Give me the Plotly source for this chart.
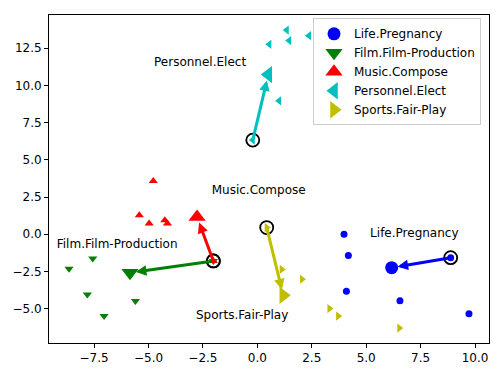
import plotly.graph_objects as go

# small points per relation (last point in each list is the circled anchor)
life_x = [3.98, 4.18, 4.09, 6.55, 9.72, 8.88]
life_y = [0.0, -1.43, -3.83, -4.46, -5.33, -1.57]
film_x = [-8.65, -7.56, -7.81, -7.04, -5.60, -2.02]
film_y = [-2.31, -1.63, -4.05, -5.49, -4.48, -1.79]
music_x = [-4.78, -5.42, -4.97, -4.25, -4.13, -2.02]
music_y = [3.58, 1.28, 0.72, 0.94, 0.72, -1.79]
elect_x = [1.35, 1.46, 2.37, 0.55, 1.00, -0.21]
elect_y = [13.71, 13.0, 13.33, 12.75, 8.96, 6.32]
sports_x = [1.12, 2.05, 3.31, 3.71, 6.52, 0.43]
sports_y = [-2.36, -3.02, -4.99, -5.49, -6.30, 0.45]

names = ['Life.Pregnancy', 'Film.Film-Production', 'Music.Compose', 'Personnel.Elect', 'Sports.Fair-Play']
anchor_x = [8.88, -2.02, -2.02, -0.21, 0.43]
anchor_y = [-1.57, -1.79, -1.79, 6.32, 0.45]
target_x = [6.17, -5.85, -2.77, 0.50, 1.19]
target_y = [-2.24, -2.59, 1.16, 10.72, -4.10]

label_x = [7.21, -6.44, 0.06, -2.63, -0.70]
label_y = [0.05, -0.72, 2.91, 11.5, -5.47]

x_ticks = [-7.5, -5.0, -2.5, 0.0, 2.5, 5.0, 7.5, 10.0]
y_ticks = [-5.0, -2.5, 0.0, 2.5, 5.0, 7.5, 10.0, 12.5]

colors = ['#0000ff', '#008000', '#ff0000', '#00bfbf', '#bfbf00']
symbols = ['circle', 'triangle-down', 'triangle-up', 'triangle-left', 'triangle-right']
small_x = [life_x, film_x, music_x, elect_x, sports_x]
small_y = [life_y, film_y, music_y, elect_y, sports_y]

FONT = 'DejaVu Sans'

fig = go.Figure()

for i in range(len(names)):
    sz = 7 if symbols[i] == 'circle' else 8
    fig.add_trace(go.Scatter(x=small_x[i], y=small_y[i], mode='markers',
                             marker=dict(symbol=symbols[i], color=colors[i], size=sz),
                             showlegend=False, hoverinfo='skip'))

fig.add_trace(go.Scatter(x=anchor_x, y=anchor_y, mode='markers',
                         marker=dict(symbol='circle-open', color='black', size=13,
                                     line=dict(width=1.8)),
                         showlegend=False, hoverinfo='skip'))

for i in range(len(names)):
    sz = 13 if symbols[i] == 'circle' else 15
    fig.add_trace(go.Scatter(x=[target_x[i]], y=[target_y[i]], mode='markers', name=names[i],
                             marker=dict(symbol=symbols[i], color=colors[i], size=sz)))

    fig.add_annotation(x=target_x[i], y=target_y[i], ax=anchor_x[i], ay=anchor_y[i],
                       xref='x', yref='y', axref='x', ayref='y', text='',
                       showarrow=True, arrowhead=2, arrowsize=0.7, arrowwidth=3,
                       arrowcolor=colors[i], standoff=6)

fig.add_trace(go.Scatter(x=label_x, y=label_y, mode='text', text=names,
                         textfont=dict(family=FONT, size=12, color='black'),
                         showlegend=False, hoverinfo='skip'))

axis_style = dict(showgrid=False, zeroline=False, showline=True, linecolor='black',
                  linewidth=1, mirror=True, ticks='outside', ticklen=4, tickwidth=1,
                  tickcolor='black', automargin=False,
                  tickfont=dict(family=FONT, size=12, color='black'))

fig.update_xaxes(range=[-9.57, 10.64], tickvals=x_ticks,
                 ticktext=[f'{v:.1f}'.replace('-', '\u2212') for v in x_ticks], **axis_style)
fig.update_yaxes(range=[-7.3, 14.72], tickvals=y_ticks,
                 ticktext=[f'{v:.1f}'.replace('-', '\u2212') for v in y_ticks], **axis_style)

fig.update_layout(
    width=503, height=372,
    margin=dict(l=49, r=14, t=15, b=29),
    plot_bgcolor='white', paper_bgcolor='white',
    font=dict(family=FONT, size=12, color='black'),
    legend=dict(x=0.6, y=0.99, xanchor='left', yanchor='top',
                bgcolor='rgba(255,255,255,0.8)', bordercolor='#cccccc', borderwidth=1,
                font=dict(family=FONT, size=12)),
)

# page body has a default 8px margin; drop it so the figure sits at the window origin
fig.write_html('out.html', post_script="document.body.style.margin='0';",
               config={'displayModeBar': False})
